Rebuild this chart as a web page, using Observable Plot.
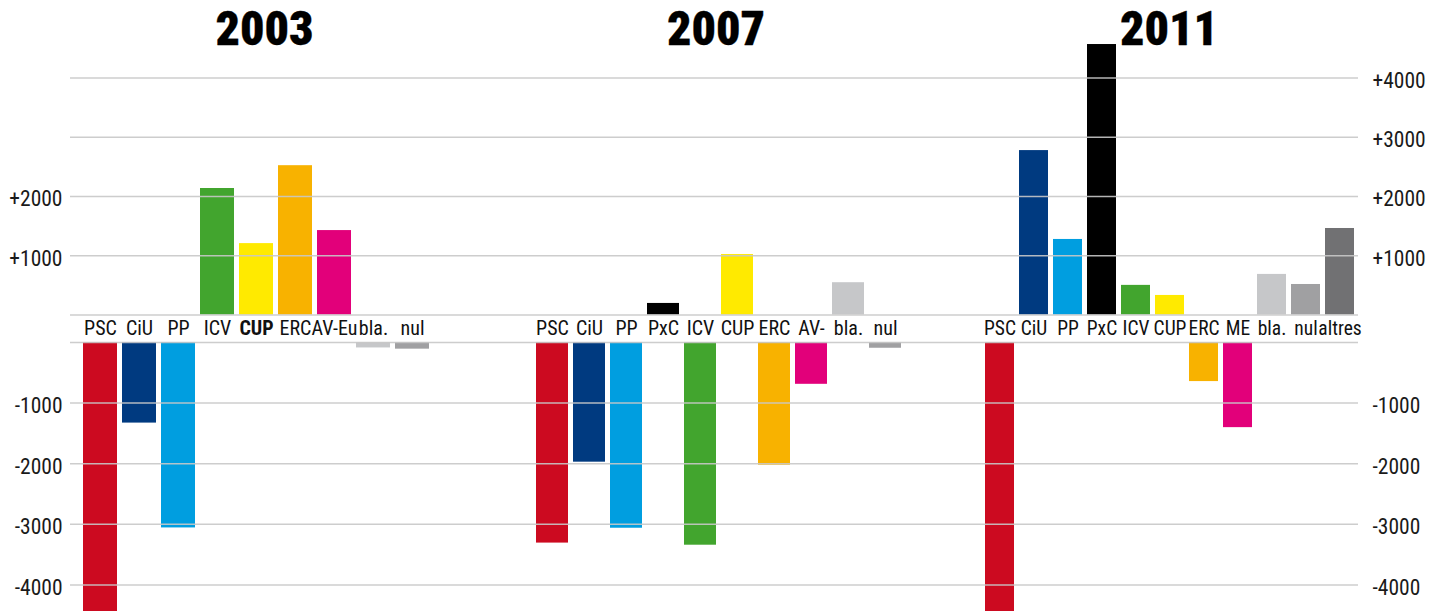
<!DOCTYPE html>
<html>
<head>
<meta charset="utf-8">
<script src="https://cdn.jsdelivr.net/npm/d3@7"></script>
<script src="https://cdn.jsdelivr.net/npm/@observablehq/plot@0.6"></script>
<style>
  body { margin: 0; background: #fff; }
  #chart { position: relative; width: 1443px; height: 611px; overflow: hidden; background: #fff; }
  #chart svg { position: absolute; left: 0; top: 0; font-stretch: condensed; }
  #chart svg text { font-stretch: condensed; }
</style>
</head>
<body>
<div id="chart"></div>
<script>
// ---- data ----
const years = ["2003", "2007", "2011"];

const parties2003 = ["PSC", "CiU", "PP", "ICV", "CUP", "ERC", "AV-Eu", "bla.", "nul"];
const values2003  = [-4500, -1330, -3060, 2135, 1205, 2520, 1425, -90, -110];
const bold2003    = ["CUP"];

const parties2007 = ["PSC", "CiU", "PP", "PxC", "ICV", "CUP", "ERC", "AV-", "bla.", "nul"];
const values2007  = [-3310, -1975, -3065, 195, -3345, 1020, -2025, -690, 545, -95];

const parties2011 = ["PSC", "CiU", "PP", "PxC", "ICV", "CUP", "ERC", "ME", "bla.", "nul", "altres"];
const values2011  = [-4500, 2775, 1275, 4565, 500, 330, -645, -1405, 685, 515, 1460];

const colorKeys   = ["PSC", "CiU", "PP", "PxC", "ICV", "CUP", "ERC", "AV-Eu", "AV-", "ME", "bla.", "nul", "altres"];
const colorValues = ["#cc0a20", "#003a80", "#009ee0", "#000000", "#42a52e", "#ffea00", "#f8b200", "#e2007a", "#e2007a", "#e2007a", "#c6c7c9", "#a0a0a2", "#717173"];

const posTicks   = [0, 1000, 2000, 3000, 4000];
const negTicks   = [-1000, -2000, -3000, -4000];
const leftTicks  = [2000, 1000, -1000, -2000, -3000, -4000];
const rightTicks = [4000, 3000, 2000, 1000, -1000, -2000, -3000, -4000];

// ---- layout ----
const W = 1443, H = 611;
const FONT = "Roboto, 'Roboto Condensed', 'Open Sans', sans-serif";
const GAP = 464;        // gap between the positive and negative baselines, in value units
const K_NEG = 1.0228;   // negative half is drawn slightly taller
const shift = v => v >= 0 ? v : v * K_NEG - GAP;
const yOpts = { domain: [0, 4000], range: [314.5, 77.5], axis: null };
const fmt = v => v > 0 ? "+" + v : String(v);
const svgStyle = { background: "transparent", overflow: "visible", fontFamily: FONT, fontStretch: "condensed" };

const groups = [
  { year: years[0], parties: parties2003, values: values2003, left: 82,  right: 430,  pad: 0.128, bold: bold2003, titleDx: 8,  labelSize: 20 },
  { year: years[1], parties: parties2007, values: values2007, left: 532, right: 905,  pad: 0.13,  bold: [],       titleDx: -3, labelSize: 20 },
  { year: years[2], parties: parties2011, values: values2011, left: 980, right: 1359, pad: 0.14,  bold: [],       titleDx: -1, labelSize: 19.5 }
];

const chart = document.getElementById("chart");

for (const g of groups) {
  const data = g.parties.map((p, i) => ({ party: p, value: g.values[i], bold: g.bold.includes(p) }));
  const svg = Plot.plot({
    width: W, height: H,
    marginTop: 0, marginBottom: 0, marginLeft: g.left, marginRight: W - g.right,
    style: svgStyle,
    x: { domain: g.parties, paddingInner: g.pad, paddingOuter: 0, axis: null },
    y: yOpts,
    color: { domain: colorKeys, range: colorValues },
    marks: [
      Plot.barY(data, {
        x: "party",
        y1: d => d.value >= 0 ? 0 : -GAP,
        y2: d => shift(d.value),
        fill: "party"
      }),
      Plot.text(data.filter(d => !d.bold), {
        x: "party", y: -GAP / 2, text: "party",
        fontSize: g.labelSize, fill: "#111", fontFamily: FONT
      }),
      Plot.text(data.filter(d => d.bold), {
        x: "party", y: -GAP / 2, text: "party",
        fontSize: g.labelSize, fontWeight: "bold", fill: "#111", fontFamily: FONT
      }),
      Plot.text([g.year], {
        frameAnchor: "top", lineAnchor: "top", dy: 10, dx: g.titleDx, text: d => d,
        fontSize: 48, fontWeight: 900, fill: "#000", stroke: "#000", strokeWidth: 0.3,
        fontFamily: FONT
      })
    ]
  });
  chart.appendChild(svg);
}

// grid + axes on top
const grid = Plot.plot({
  width: W, height: H,
  marginTop: 0, marginBottom: 0, marginLeft: 70, marginRight: 85,
  style: svgStyle,
  y: yOpts,
  marks: [
    Plot.ruleY(posTicks, { y: d => d, stroke: "#c8c8c8", strokeWidth: 1.5, strokeOpacity: 0.9 }),
    Plot.ruleY(negTicks, { y: shift, stroke: "#c8c8c8", strokeWidth: 1.5, strokeOpacity: 0.9 }),
    Plot.ruleY([-GAP], { stroke: "#c8c8c8", strokeWidth: 1.5, strokeOpacity: 0.9 }),
    Plot.text(leftTicks, {
      y: shift, text: fmt, frameAnchor: "left", textAnchor: "end", dx: -8, dy: 3,
      fontSize: 21.5, fill: "#1a1a1a", fontFamily: FONT
    }),
    Plot.text(rightTicks, {
      y: shift, text: fmt, frameAnchor: "right", textAnchor: "start", dx: 14, dy: 3,
      fontSize: 21.5, fill: "#1a1a1a", fontFamily: FONT
    })
  ]
});
chart.appendChild(grid);
</script>
</body>
</html>
